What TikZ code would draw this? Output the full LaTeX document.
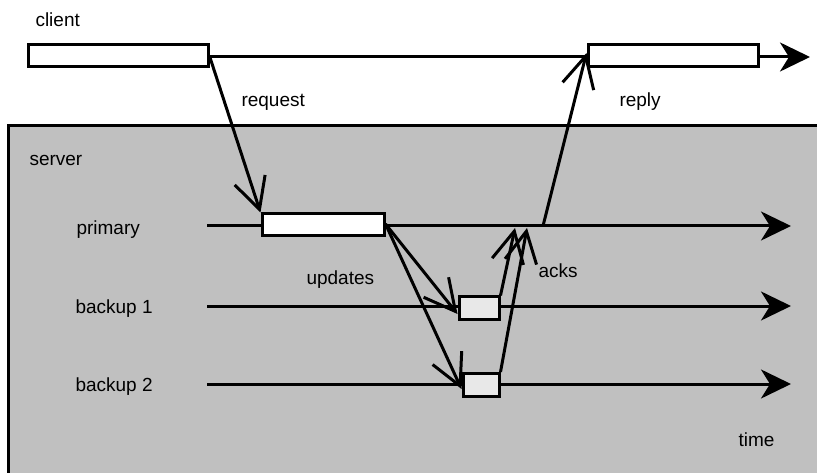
\documentclass[tikz,border=0pt]{standalone}
\usepackage{fontspec}
\setmainfont{Liberation Sans}
\usetikzlibrary{arrows.meta}

\definecolor{servergray}{RGB}{192,192,192}
\definecolor{boxgray}{RGB}{232,232,232}

\begin{document}
\begin{tikzpicture}[x=1pt,y=-1pt,line width=3pt,
    font=\fontsize{19}{22}\selectfont,
    lbl/.style={inner sep=0pt,anchor=base west},
    slot/.style={draw,fill=white,inner sep=0pt},
    bslot/.style={draw,fill=boxgray,inner sep=0pt},
    msg/.style={-{Straight Barb[length=31pt,width=32pt]}},
    timeline/.style={-{Stealth[length=30pt,width=29pt,inset=9pt]}}]
    \useasboundingbox (0,0) rectangle (817,473);
        % server area
        \fill[servergray] (8,126) rectangle (817,473);
        \draw (8,473) -- (8,126) -- (817,126);

        % labels
        \node   (lclient) [lbl] at (34,27)     {client};
        \node   (lrequest) [lbl] at (240,107)  {request};
        \node   (lreply) [lbl] at (618,107)    {reply};
        \node   (lserver) [lbl] at (28,166)    {server};
        \node   (lprimary) [lbl] at (75,235)   {primary};
        \node   (lupdates) [lbl] at (305,285)  {updates};
        \node   (lacks) [lbl] at (537,278)     {acks};
        \node   (lback1) [lbl] at (74,313)     {backup 1};
        \node   (lback2) [lbl] at (74,391)     {backup 2};
        \node   (ltime) [lbl] at (737,446)     {time};

        % time lines
        \coordinate (cs) at (208,57);
        \coordinate (ce) at (810,57);
        \coordinate (ps) at (207,226);
        \coordinate (pe) at (791,226);
        \coordinate (b1s) at (207,306);
        \coordinate (b1e) at (791,306);
        \coordinate (b2s) at (207,384);
        \coordinate (b2e) at (791,384);
        \draw (cs) -- (588,57);
        \draw[timeline] (758,57) -- (ce);
        \draw[timeline] (ps) -- (pe);
        \draw[timeline] (b1s) -- (b1e);
        \draw[timeline] (b2s) -- (b2e);

        % processing slots
        \node   (client) [slot,minimum width=180pt,minimum height=22pt] at (118,56) {};
        \node   (reply) [slot,minimum width=170pt,minimum height=22pt] at (673,56) {};
        \node   (primary) [slot,minimum width=122pt,minimum height=22pt] at (323,225) {};
        \node   (backup1) [bslot,minimum width=40pt,minimum height=22pt] at (479,308) {};
        \node   (backup2) [bslot,minimum width=36pt,minimum height=23pt] at (481,385) {};

        % messages
        \coordinate (ack1) at (515,228);
        \coordinate (ack2) at (527,228);
        \coordinate (rs) at (543,226);
        \draw[msg] (client.east) -- (primary.north west);
        \draw[msg] ([yshift=1pt]primary.east) -- ([yshift=-6pt]backup1.west);
        \draw[msg] ([yshift=1pt]primary.east) -- ([yshift=-4pt]backup2.west);
        \draw[msg] (backup1.north east) -- (ack1);
        \draw[msg] (backup2.north east) -- (ack2);
        \draw[msg] (rs) -- ([yshift=3pt]reply.west);
    \end{tikzpicture}
\end{document}
